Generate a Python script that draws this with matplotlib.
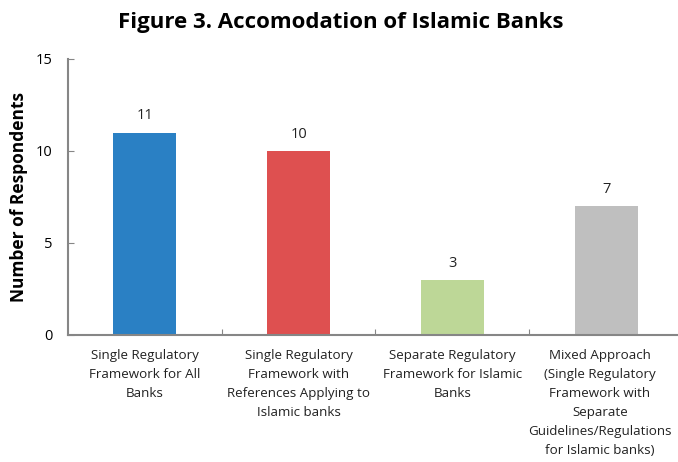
import matplotlib.pyplot as plt

categories = [
    "Single Regulatory\nFramework for All\nBanks",
    "Single Regulatory\nFramework with\nReferences Applying to\nIslamic banks",
    "Separate Regulatory\nFramework for Islamic\nBanks",
    "Mixed Approach\n(Single Regulatory\nFramework with\nSeparate\nGuidelines/Regulations\nfor Islamic banks)",
]
values = [11, 10, 3, 7]
colors = ["#2a80c4", "#de5050", "#bdd797", "#bfbfbf"]

plt.rcParams['font.family'] = ['Open Sans', 'DejaVu Sans']

fig = plt.figure(figsize=(6.78, 4.62), dpi=100)
ax = fig.add_axes([0.1003, 0.2749, 0.907, 0.5974])

x = range(len(values))
bars = ax.bar(x, values, width=0.41, color=colors)
for i, v in enumerate(values):
    ax.text(i, v + 0.5, str(v), ha='center', va='bottom', fontsize=10.5, color='#222222')

ax.set_xlim(-0.5, len(values) - 0.5)
ax.set_ylim(0, 15)
ax.set_yticks([0, 5, 10, 15])
ax.set_xticks([0.5, 1.5, 2.5])
ax.set_xticklabels([])
ax.tick_params(axis='both', direction='in', length=4, color='#868686', labelsize=10.5)
ax.tick_params(axis='y', pad=11)

for i, lab in enumerate(categories):
    ax.text(i - (0.04 if i == 3 else 0), -0.75, lab, ha='center', va='top', fontsize=9.6,
            linespacing=1.6, color='#222222', transform=ax.transData)

for s in ['top', 'right']:
    ax.spines[s].set_visible(False)
for s in ['left', 'bottom']:
    ax.spines[s].set_color('#868686')
    ax.spines[s].set_linewidth(1.5)

ax.set_ylabel("Number of Respondents", fontsize=12.5, fontweight='bold', labelpad=6)
fig.text(0.502, 0.952, "Figure 3. Accomodation of Islamic Banks", ha='center', va='center',
         fontsize=16, fontweight='bold')

plt.savefig("out.png", dpi=100)
